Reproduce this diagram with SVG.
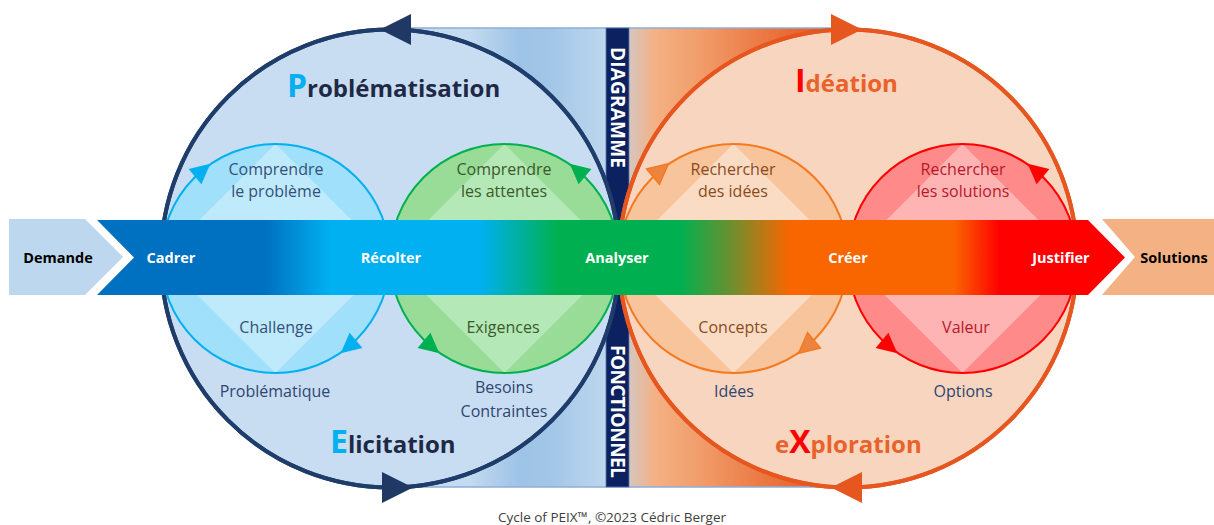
<svg xmlns="http://www.w3.org/2000/svg" xmlns:xlink="http://www.w3.org/1999/xlink" width="1214" height="525" viewBox="0 0 1214 525">
<defs>
  <linearGradient id="gBand" gradientUnits="userSpaceOnUse" x1="97" y1="0" x2="1125" y2="0">
    <stop offset="0" stop-color="#0070c0"/>
    <stop offset="0.163" stop-color="#0070c0"/>
    <stop offset="0.227" stop-color="#00b0f0"/>
    <stop offset="0.373" stop-color="#00b0f0"/>
    <stop offset="0.448" stop-color="#00b050"/>
    <stop offset="0.567" stop-color="#00b050"/>
    <stop offset="0.616" stop-color="#6a9030"/>
    <stop offset="0.674" stop-color="#f96600"/>
    <stop offset="0.833" stop-color="#f96600"/>
    <stop offset="0.878" stop-color="#ff0000"/>
    <stop offset="1" stop-color="#ff0000"/>
  </linearGradient>
  <linearGradient id="gLeft" gradientUnits="userSpaceOnUse" x1="390" y1="0" x2="606" y2="0">
    <stop offset="0" stop-color="#c9ddf2"/>
    <stop offset="0.37" stop-color="#c3daf0"/>
    <stop offset="0.6" stop-color="#9dc3e6"/>
    <stop offset="0.74" stop-color="#a2c6e7"/>
    <stop offset="1" stop-color="#bdd7ee"/>
  </linearGradient>
  <linearGradient id="gRight" gradientUnits="userSpaceOnUse" x1="629" y1="0" x2="848" y2="0">
    <stop offset="0" stop-color="#d5c6c0"/>
    <stop offset="0.12" stop-color="#f4b183"/>
    <stop offset="0.33" stop-color="#f19c6a"/>
    <stop offset="0.6" stop-color="#eb7a45"/>
    <stop offset="0.92" stop-color="#e6561f"/>
    <stop offset="1" stop-color="#e6561f"/>
  </linearGradient>
  <path id="ah" d="M 11 0 L -9 -10 L -9 10 Z"/>
  <style>
    text { font-family: "Open Sans", "Liberation Sans", sans-serif; }
    .bandlbl { font-size: 14.5px; font-weight: bold; fill: #ffffff; text-anchor: middle; }
    .endlbl { font-size: 14.5px; font-weight: bold; fill: #000000; text-anchor: middle; }
    .ct { font-size: 16px; text-anchor: middle; }
    .outer { font-size: 16px; text-anchor: middle; fill: #2e4670; }
    .title { font-size: 24px; font-weight: bold; }
    .big { font-size: 32px; }
    .vert { font-size: 19px; font-weight: bold; fill: #ffffff; text-anchor: middle; }
    .bigL { fill: #c9ddf2; stroke: #1f3d6b; stroke-width: 4; }
    .bigR { fill: #f8d5bf; stroke: #e6561f; stroke-width: 4; }
    .sw { stroke-width: 2; }
  </style>
</defs>

<!-- background gradient panel behind circles -->
<g id="panel">
  <rect x="390" y="28" width="216" height="459" fill="url(#gLeft)"/>
  <rect x="629" y="28" width="219" height="459" fill="url(#gRight)"/>
  <line x1="390" y1="28" x2="848" y2="28" stroke="#8eaed6" stroke-width="1.5"/>
  <line x1="390" y1="487" x2="848" y2="487" stroke="#8eaed6" stroke-width="1.5"/>
</g>

<g id="diagramme-fonctionnel">
  <rect x="606" y="28" width="23" height="459" fill="#0c2160" stroke="#5a7ab0" stroke-width="0.8"/>
  <text class="vert" transform="translate(610.7,107.5) rotate(90)" textLength="121">DIAGRAMME</text>
  <text class="vert" transform="translate(610.7,411.5) rotate(90)" textLength="133">FONCTIONNEL</text>
</g>

<!-- big circles -->
<g id="big-left">
  <circle class="bigL" cx="390" cy="258.5" r="229"/>
</g>
<g id="big-right">
  <circle class="bigR" cx="848" cy="258.5" r="229"/>
</g>

<!-- small circles -->
<g id="circle-cadrer">
  <circle cx="275.5" cy="258.5" r="114.5" fill="#a0e0fa"/>
  <path d="M 275.5 144 L 390 258.5 L 275.5 373 L 161 258.5 Z" fill="#bfeafc"/>
  <circle cx="275.5" cy="258.5" r="114.5" fill="none" stroke="#00b0f0" class="sw"/>
</g>
<g id="circle-recolter">
  <circle cx="504.5" cy="258.5" r="114.5" fill="#98dc98"/>
  <path d="M 504.5 144 L 619 258.5 L 504.5 373 L 390 258.5 Z" fill="#b4e8b6"/>
  <circle cx="504.5" cy="258.5" r="114.5" fill="none" stroke="#00b050" class="sw"/>
</g>
<g id="circle-creer">
  <circle cx="733.5" cy="258.5" r="114.5" fill="#f8c49c"/>
  <path d="M 733.5 144 L 848 258.5 L 733.5 373 L 619 258.5 Z" fill="#fadcc4"/>
  <circle cx="733.5" cy="258.5" r="114.5" fill="none" stroke="#f47a20" class="sw"/>
</g>
<g id="circle-justifier">
  <circle cx="962.5" cy="258.5" r="114.5" fill="#ff8a8a"/>
  <path d="M 962.5 144 L 1077 258.5 L 962.5 373 L 848 258.5 Z" fill="#ffb4b4"/>
  <circle cx="962.5" cy="258.5" r="114.5" fill="none" stroke="#ff0000" class="sw"/>
</g>

<!-- big circle outlines on top -->
<g id="big-outlines">
  <circle cx="390" cy="258.5" r="229" fill="none" stroke="#1f3d6b" stroke-width="4"/>
  <circle cx="848" cy="258.5" r="229" fill="none" stroke="#e6561f" stroke-width="4"/>
</g>

<!-- connectors: arrowheads of the cycles -->
<g id="connectors">
  <path d="M 380 29.5 L 411 14 L 411 45 Z" fill="#1f3864"/>
  <path d="M 413 487.5 L 382 472 L 382 503 Z" fill="#1f3864"/>
  <path d="M 862 29.5 L 831 14 L 831 45 Z" fill="#e6561f"/>
  <path d="M 831 487.5 L 862 472 L 862 503 Z" fill="#e6561f"/>
  <use xlink:href="#ah" href="#ah" transform="translate(201.9,170.8) rotate(-40)" fill="#00b0f0"/>
  <use xlink:href="#ah" href="#ah" transform="translate(349.1,346.2) rotate(140)" fill="#00b0f0"/>
  <use xlink:href="#ah" href="#ah" transform="translate(578.1,170.8) rotate(-140)" fill="#00b050"/>
  <use xlink:href="#ah" href="#ah" transform="translate(430.9,346.2) rotate(40)" fill="#00b050"/>
  <use xlink:href="#ah" href="#ah" transform="translate(659.9,170.8) rotate(-40)" fill="#ec8440" stroke="#f47a20" stroke-width="1.5"/>
  <use xlink:href="#ah" href="#ah" transform="translate(807.1,346.2) rotate(140)" fill="#ec8440" stroke="#f47a20" stroke-width="1.5"/>
  <use xlink:href="#ah" href="#ah" transform="translate(1036.1,170.8) rotate(-140)" fill="#ff0000"/>
  <use xlink:href="#ah" href="#ah" transform="translate(888.9,346.2) rotate(40)" fill="#ff0000"/>
</g>

<!-- process band -->
<g id="demande">
  <path d="M 9 219 L 85 219 L 123 257 L 85 295 L 9 295 Z" fill="#bdd7ee"/>
  <text class="endlbl" x="58" y="262.5">Demande</text>
</g>
<g id="band">
  <path d="M 97 220 L 1088 220 L 1125 257.5 L 1088 295 L 97 295 L 134 257.5 Z" fill="url(#gBand)"/>
  <text class="bandlbl" x="171" y="262.5">Cadrer</text>
  <text class="bandlbl" x="391" y="262.5">Récolter</text>
  <text class="bandlbl" x="617" y="262.5">Analyser</text>
  <text class="bandlbl" x="848" y="262.5">Créer</text>
  <text class="bandlbl" x="1061" y="262.5">Justifier</text>
</g>
<g id="solutions">
  <path d="M 1102 219 L 1214 219 L 1214 295 L 1102 295 L 1135 257 Z" fill="#f4b183"/>
  <text class="endlbl" x="1174" y="262.5">Solutions</text>
</g>

<!-- texts -->
<g id="texts-cadrer">
  <text class="ct" fill="#34507a" x="276" y="175">Comprendre</text>
  <text class="ct" fill="#34507a" x="276" y="197">le problème</text>
  <text class="ct" fill="#34507a" x="276" y="333">Challenge</text>
  <text class="outer" x="275" y="397">Problématique</text>
</g>
<g id="texts-recolter">
  <text class="ct" fill="#3b5a2b" x="504" y="175">Comprendre</text>
  <text class="ct" fill="#3b5a2b" x="504" y="197">les attentes</text>
  <text class="ct" fill="#3b5a2b" x="503" y="333">Exigences</text>
  <text class="outer" x="504" y="393">Besoins</text>
  <text class="outer" x="504" y="417">Contraintes</text>
</g>
<g id="texts-creer">
  <text class="ct" fill="#8a4b20" x="733" y="175">Rechercher</text>
  <text class="ct" fill="#8a4b20" x="733" y="197">des idées</text>
  <text class="ct" fill="#8a4b20" x="733" y="333">Concepts</text>
  <text class="outer" x="734" y="397">Idées</text>
</g>
<g id="texts-justifier">
  <text class="ct" fill="#b8182a" x="963" y="175">Rechercher</text>
  <text class="ct" fill="#b8182a" x="963" y="197">les solutions</text>
  <text class="ct" fill="#b8182a" x="966" y="333">Valeur</text>
  <text class="outer" x="963" y="397">Options</text>
</g>
<g id="titles">
  <text class="title" x="287" y="97" fill="#1e2a45"><tspan class="big" fill="#00b0f0">P</tspan>roblématisation</text>
  <text class="title" x="330" y="453" fill="#1e2a45"><tspan class="big" fill="#00b0f0">E</tspan>licitation</text>
  <text class="title" x="795" y="92" fill="#e8622a"><tspan class="big" fill="#ff0000">I</tspan>déation</text>
  <text class="title" x="775" y="453" fill="#e8622a">e<tspan class="big" fill="#ff0000">X</tspan>ploration</text>
</g>
<text x="612" y="522" font-size="13.5" fill="#404040" text-anchor="middle">Cycle of PEIX™, ©2023 Cédric Berger</text>
</svg>
